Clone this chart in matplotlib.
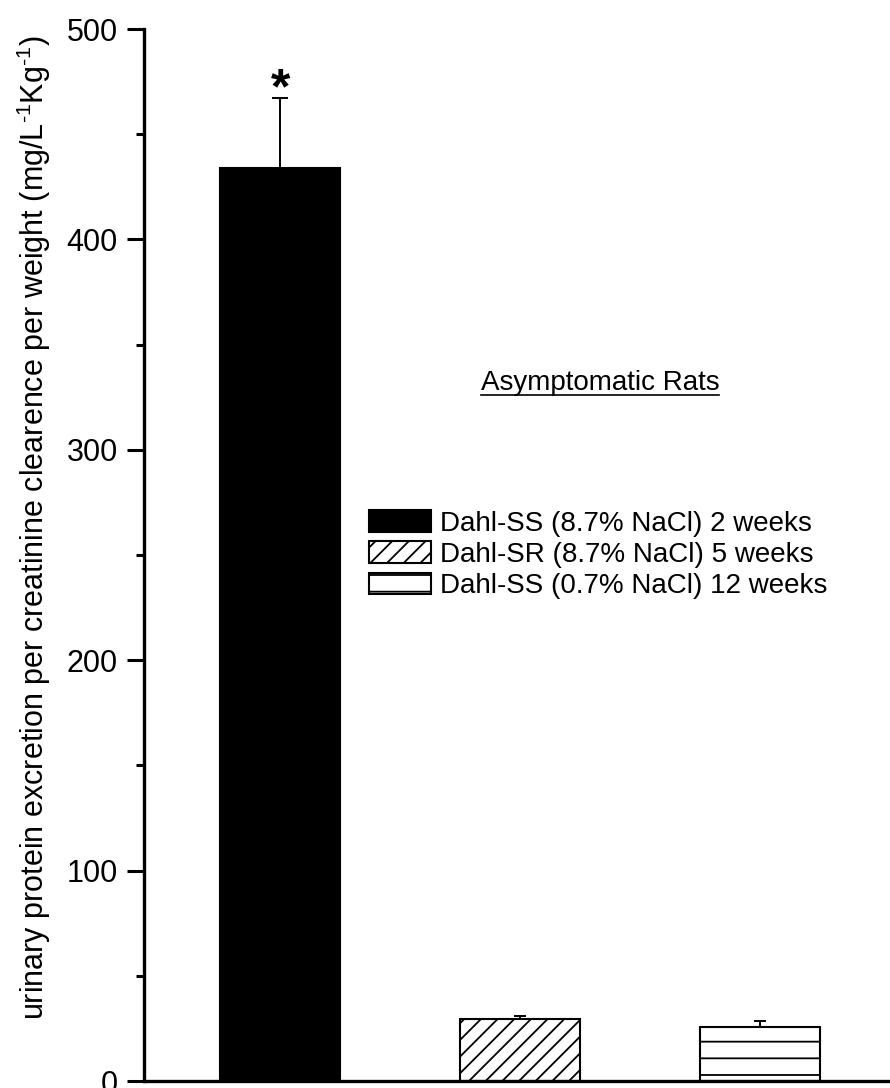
import numpy as np
import matplotlib
matplotlib.use("Agg")
import matplotlib.pyplot as plt
from matplotlib.patches import Patch
from matplotlib.ticker import MultipleLocator

plt.rcParams['font.family'] = ['Liberation Sans', 'DejaVu Sans']
plt.rcParams['mathtext.fontset'] = 'custom'
plt.rcParams['mathtext.rm'] = 'Liberation Sans'
plt.rcParams['mathtext.it'] = 'Liberation Sans'
plt.rcParams['hatch.linewidth'] = 1.3

# data
groups = ['Dahl-SS (8.7% NaCl) 2 weeks',
          'Dahl-SR (8.7% NaCl) 5 weeks',
          'Dahl-SS (0.7% NaCl) 12 weeks']
values = [434, 29.5, 25.7]
errors = [33, 1.4, 2.8]
caps = [5.8, 4, 4]
fills = ['black', 'white', 'white']
hatches = [None, '//', '-']
ylabel = ('urinary protein excretion per creatinine clearence per weight '
          '(mg/L$^{\\text{-1}}$Kg$^{\\text{-1}}$)')

fig = plt.figure(figsize=(8.9, 10.88), dpi=100)
ax = fig.add_axes([0.1618, 0.0064, 1 - 0.1618, 0.9733 - 0.0064])

x = np.arange(len(values))
for i in range(len(values)):
    ax.bar(x[i], values[i], width=0.5, color=fills[i], edgecolor='black',
           linewidth=1.5, hatch=hatches[i], zorder=2)
    ax.errorbar(x[i], values[i], yerr=[[0], [errors[i]]], fmt='none',
                ecolor='black', elinewidth=1.4, capsize=caps[i], capthick=1.4,
                zorder=1)

# significance mark
ax.annotate('*', (x[0], values[0] + errors[0]), xytext=(0, -11),
            textcoords='offset points', ha='center', va='bottom',
            fontsize=36, fontweight='bold')

ax.set_xlim(-0.567, 2.54)
ax.set_ylim(0, 500)
ax.yaxis.set_major_locator(MultipleLocator(100))
ax.yaxis.set_minor_locator(MultipleLocator(50))
ax.tick_params(axis='y', which='major', direction='out', length=12, width=2.2,
               labelsize=22, pad=7)
ax.tick_params(axis='y', which='minor', direction='out', length=6, width=2.2)
ax.set_xticks([])
for s in ['top', 'right']:
    ax.spines[s].set_visible(False)
for s in ['left', 'bottom']:
    ax.spines[s].set_linewidth(2.4)
ax.spines['bottom'].set_zorder(3)

fig.text(34 / 890, 1 - 528 / 1088, ylabel, rotation=90, ha='center',
         va='center', fontsize=22)

# legend
handles = [Patch(facecolor=fills[i], edgecolor='black', hatch=hatches[i],
                 linewidth=1.5) for i in range(len(groups))]
ax.legend(handles, groups, loc='upper left',
          bbox_to_anchor=(369 / 890, 1 - 510 / 1088),
          bbox_transform=fig.transFigure, frameon=False, fontsize=20,
          handlelength=2.23, handleheight=0.83, handletextpad=0.32,
          labelspacing=0.17, borderpad=0, borderaxespad=0)

t = fig.text(600 / 890, 1 - 383 / 1088, 'Asymptomatic Rats', ha='center',
             va='center', fontsize=20)
fig.canvas.draw()
bb = t.get_window_extent()
fig.add_artist(plt.Line2D([bb.x0, bb.x1], [bb.y0 + 1, bb.y0 + 1],
                          transform=None, color='black', linewidth=1.2))

fig.savefig('out.png', dpi=100)
